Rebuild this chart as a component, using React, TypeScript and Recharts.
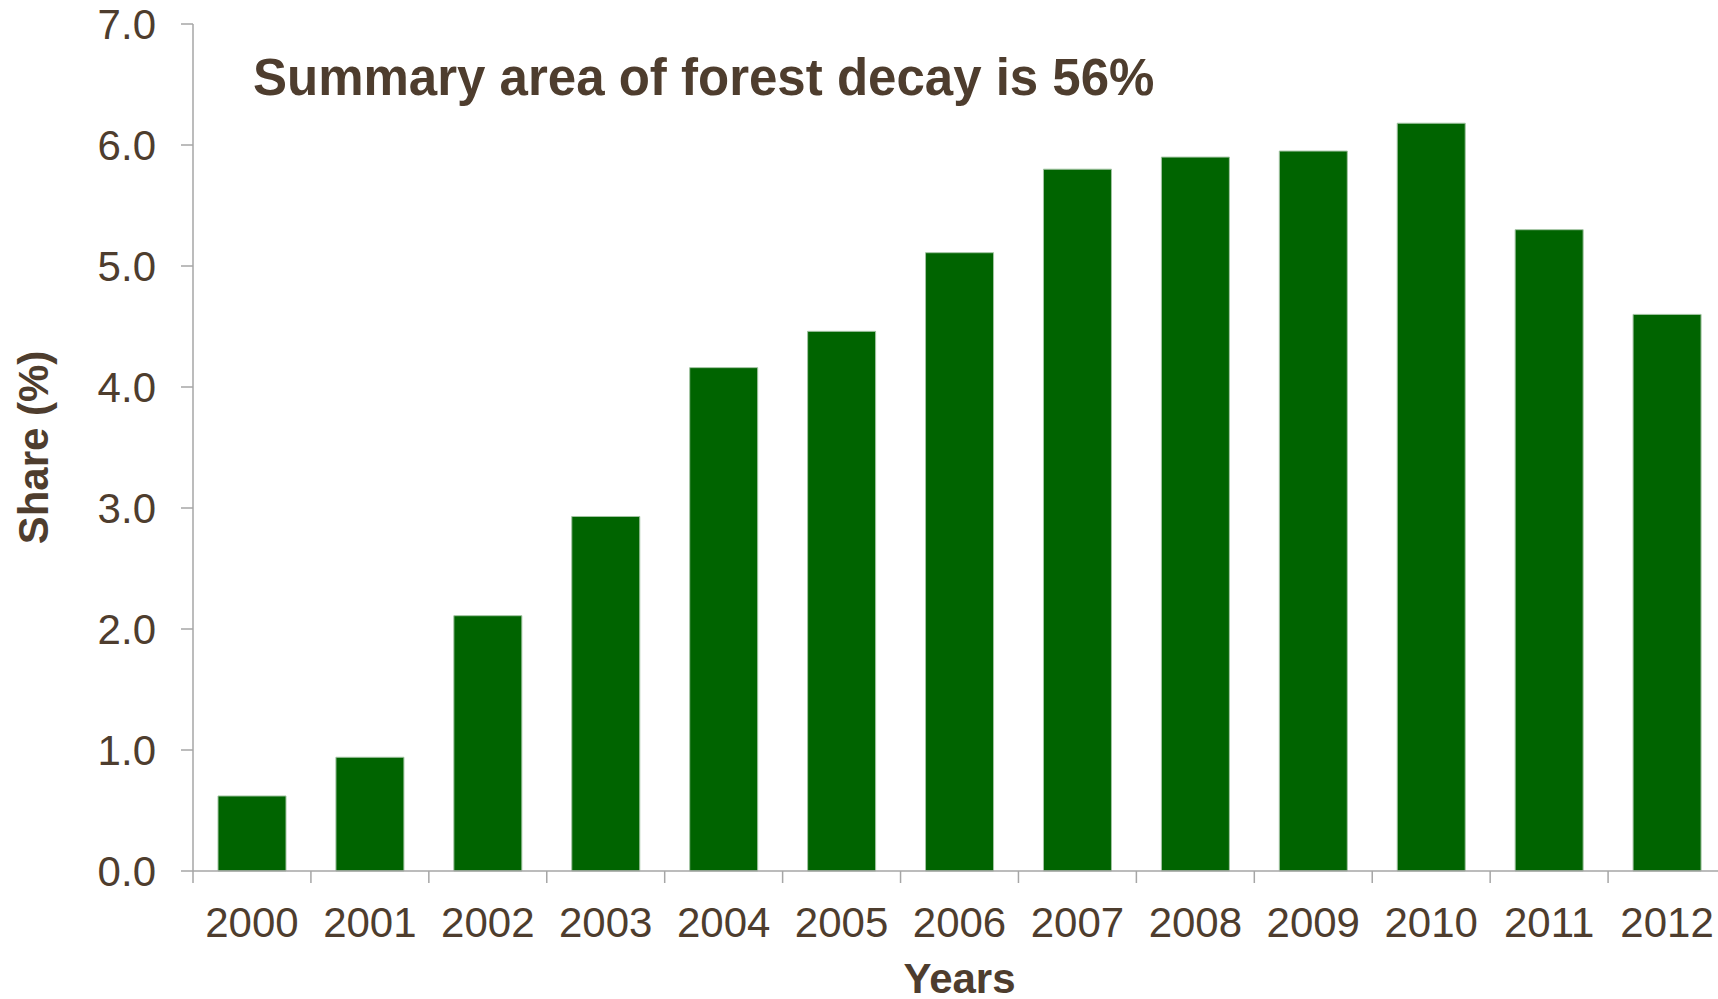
import React from "react";
import { BarChart, Bar, XAxis, YAxis, Label } from "recharts";

const years = ["2000", "2001", "2002", "2003", "2004", "2005", "2006", "2007", "2008", "2009", "2010", "2011", "2012"];
const shares = [0.62, 0.94, 2.11, 2.93, 4.16, 4.46, 5.11, 5.8, 5.9, 5.95, 6.18, 5.3, 4.6];
const yTicks = [0, 1, 2, 3, 4, 5, 6, 7];
const titleText = "Summary area of forest decay is 56%";
const yTitle = "Share (%)";
const xTitle = "Years";

const data = years.map((y, i) => ({ year: y, share: shares[i] }));

const CHART_W = 1740;
const CHART_H = 999;
const Y_AXIS_W = 193;
const RIGHT_M = 14;
const TOP_M = 24;
const X_AXIS_H = 128;
const PLOT_W = CHART_W - Y_AXIS_W - RIGHT_M;
const BAND = PLOT_W / years.length;

const TEXT = "#4E3D2E";
const AXIS = "#a6a6a6";
const FONT = "'Liberation Sans', Arial, sans-serif";

const XTick = (props: any) => {
  const { x, y, payload } = props;
  const bx = x - BAND / 2;
  return (
    <g>
      <line x1={bx} x2={bx} y1={y - 36} y2={y - 24} stroke={AXIS} strokeWidth={1.5} />
      <text x={x} y={y} dy="0.71em" textAnchor="middle" fill={TEXT} fontSize={42} fontFamily={FONT}>
        {payload.value}
      </text>
    </g>
  );
};

export default function App() {
  return (
    <div style={{ position: "absolute", left: 0, top: 0, width: 1718, height: 999, overflow: "hidden", background: "#fff" }}>
      <BarChart
        width={CHART_W}
        height={CHART_H}
        data={data}
        margin={{ top: TOP_M, right: RIGHT_M, bottom: 0, left: 0 }}
        barSize={68}
      >
        <XAxis
          dataKey="year"
          height={X_AXIS_H}
          tickLine={false}
          tickSize={12}
          tickMargin={24}
          axisLine={{ stroke: AXIS, strokeWidth: 1.5 }}
          tick={<XTick />}
          interval={0}
        >
          <Label
            content={(p: any) => {
              const vb = p.viewBox || {};
              const cx = vb.x + vb.width / 2;
              return (
                <text x={cx} y={993} textAnchor="middle" fill={TEXT} fontSize={42} fontWeight="bold" fontFamily={FONT}>
                  {xTitle}
                </text>
              );
            }}
          />
        </XAxis>
        <YAxis
          width={Y_AXIS_W}
          domain={[0, 7]}
          ticks={yTicks}
          interval={0}
          tickFormatter={(v: number) => v.toFixed(1)}
          tickSize={12}
          tickMargin={25}
          tickLine={{ stroke: AXIS, strokeWidth: 1.5 }}
          axisLine={{ stroke: AXIS, strokeWidth: 1.5 }}
          tick={{ fill: TEXT, fontSize: 42, fontFamily: FONT }}
        >
          <Label
            content={(p: any) => {
              const vb = p.viewBox || {};
              const cy = vb.y + vb.height / 2;
              return (
                <text
                  x={48}
                  y={cy}
                  transform={`rotate(-90 48 ${cy})`}
                  textAnchor="middle"
                  fill={TEXT}
                  fontSize={42}
                  fontWeight="bold"
                  fontFamily={FONT}
                >
                  {yTitle}
                </text>
              );
            }}
          />
        </YAxis>
        <Bar dataKey="share" fill="#006400" stroke="#a3c4a3" strokeWidth={1} isAnimationActive={false} />
        <text x={253} y={95} fill={TEXT} fontSize={51} fontWeight="bold" fontFamily={FONT}>
          {titleText}
        </text>
      </BarChart>
    </div>
  );
}
